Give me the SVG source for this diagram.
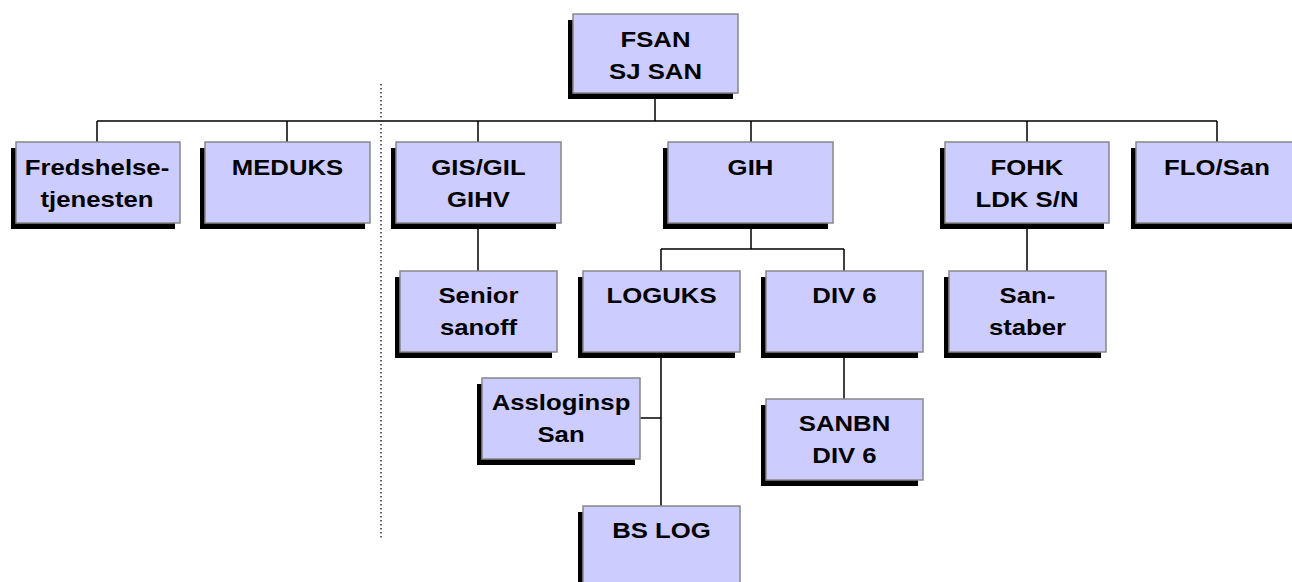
<svg xmlns="http://www.w3.org/2000/svg" width="1292" height="582" viewBox="0 0 1292 582">
<style>
.sh{fill:#000}
.bx{fill:#CCCCFF;stroke:#888;stroke-width:1.5}
.t{font-family:"Liberation Sans",Arial,sans-serif;font-weight:bold;font-size:22px;fill:#000;text-anchor:middle}
.c{stroke:#000;stroke-width:1.5;fill:none}
.d{stroke:#333;stroke-width:1.5;stroke-dasharray:1.5 2.5;fill:none}
</style>
<rect width="1292" height="582" fill="#fff"/>
<g id="connectors">
<path class="c" d="M655,93V121M97,121H1217M97,121V142M287,121V142M478,121V142M751,121V142M1027,121V142M1217,121V142"/>
<path class="c" d="M478,224V271M751,224V249M661,249H844M661,249V271M844,249V271M1027,224V271"/>
<path class="c" d="M661,352V506M640,418H661M844,352V399"/>
<path class="d" d="M381,84V538"/>
</g>
<g id="fsan"><rect class="sh" x="568" y="20" width="165" height="79"/><rect class="bx" x="573" y="14" width="165" height="79"/>
<text class="t" transform="translate(655.5,47) scale(1.17,1)">FSAN<tspan x="0" dy="32">SJ SAN</tspan></text></g>
<g id="fredshelse"><rect class="sh" x="11" y="148" width="164" height="81"/><rect class="bx" x="16" y="142" width="164" height="81"/>
<text class="t" transform="translate(97,175) scale(1.17,1)">Fredshelse-<tspan x="0" dy="32">tjenesten</tspan></text></g>
<g id="meduks"><rect class="sh" x="200" y="148" width="165" height="81"/><rect class="bx" x="205" y="142" width="165" height="81"/>
<text class="t" transform="translate(287.5,175) scale(1.17,1)">MEDUKS</text></g>
<g id="gis"><rect class="sh" x="391" y="148" width="165" height="81"/><rect class="bx" x="396" y="142" width="165" height="81"/>
<text class="t" transform="translate(478.5,175) scale(1.17,1)">GIS/GIL<tspan x="0" dy="32">GIHV</tspan></text></g>
<g id="gih"><rect class="sh" x="663" y="148" width="165" height="81"/><rect class="bx" x="668" y="142" width="165" height="81"/>
<text class="t" transform="translate(750.5,175) scale(1.17,1)">GIH</text></g>
<g id="fohk"><rect class="sh" x="940" y="148" width="164" height="81"/><rect class="bx" x="945" y="142" width="164" height="81"/>
<text class="t" transform="translate(1027,175) scale(1.17,1)">FOHK<tspan x="0" dy="32">LDK S/N</tspan></text></g>
<g id="flo"><rect class="sh" x="1131" y="148" width="165" height="81"/><rect class="bx" x="1136" y="142" width="165" height="81"/>
<text class="t" transform="translate(1217,175) scale(1.17,1)">FLO/San</text></g>
<g id="senior"><rect class="sh" x="395" y="277" width="157" height="81"/><rect class="bx" x="400" y="271" width="157" height="81"/>
<text class="t" transform="translate(478.5,303) scale(1.17,1)">Senior<tspan x="0" dy="32">sanoff</tspan></text></g>
<g id="loguks"><rect class="sh" x="578" y="277" width="157" height="81"/><rect class="bx" x="583" y="271" width="157" height="81"/>
<text class="t" transform="translate(661.5,303) scale(1.17,1)">LOGUKS</text></g>
<g id="div6"><rect class="sh" x="761" y="277" width="157" height="81"/><rect class="bx" x="766" y="271" width="157" height="81"/>
<text class="t" transform="translate(844.5,303) scale(1.17,1)">DIV 6</text></g>
<g id="sanstaber"><rect class="sh" x="944" y="277" width="157" height="81"/><rect class="bx" x="949" y="271" width="157" height="81"/>
<text class="t" transform="translate(1027.5,303) scale(1.17,1)">San-<tspan x="0" dy="32">staber</tspan></text></g>
<g id="assloginsp"><rect class="sh" x="477" y="384" width="158" height="81"/><rect class="bx" x="482" y="378" width="158" height="81"/>
<text class="t" transform="translate(561,410) scale(1.17,1)">Assloginsp<tspan x="0" dy="32">San</tspan></text></g>
<g id="sanbn"><rect class="sh" x="761" y="405" width="157" height="81"/><rect class="bx" x="766" y="399" width="157" height="81"/>
<text class="t" transform="translate(844.5,431) scale(1.17,1)">SANBN<tspan x="0" dy="32">DIV 6</tspan></text></g>
<g id="bslog"><rect class="sh" x="578" y="512" width="157" height="81"/><rect class="bx" x="583" y="506" width="157" height="81"/>
<text class="t" transform="translate(661.5,538) scale(1.17,1)">BS LOG</text></g>
</svg>
